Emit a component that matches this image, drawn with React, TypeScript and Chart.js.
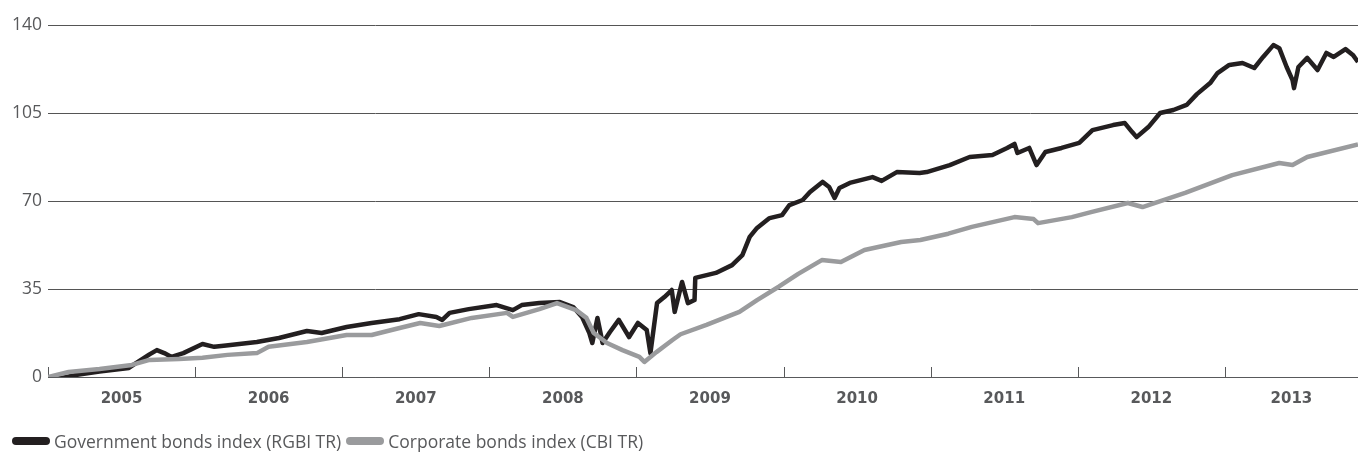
import React, { useEffect, useRef } from "react";
import { Chart, registerables } from "chart.js";

Chart.register(...registerables);

const yTicks = [0, 35, 70, 105, 140];
const yearLabels = [2005, 2006, 2007, 2008, 2009, 2010, 2011, 2012, 2013];
const xStart = 2005.0;
const xEnd = 2013.905;

const seriesNames = ["Government bonds index (RGBI TR)", "Corporate bonds index (CBI TR)"];
const seriesColors = ["#231f20", "#9a9b9d"];

const govDates = [
  2005.0, 2005.04, 2005.21, 2005.35, 2005.55, 2005.59, 2005.69, 2005.74, 2005.79, 2005.84,
  2005.92, 2006.05, 2006.13, 2006.21, 2006.42, 2006.57, 2006.76, 2006.86, 2007.03, 2007.2,
  2007.39, 2007.52, 2007.64, 2007.68, 2007.73, 2007.86, 2008.05, 2008.16, 2008.22, 2008.34,
  2008.48, 2008.57, 2008.63, 2008.68, 2008.7, 2008.735, 2008.77, 2008.82, 2008.88, 2008.95,
  2009.01, 2009.07, 2009.095, 2009.14, 2009.19, 2009.24, 2009.26, 2009.31, 2009.35, 2009.395,
  2009.4, 2009.54, 2009.65, 2009.72, 2009.77, 2009.82, 2009.905, 2009.99, 2010.04, 2010.13,
  2010.18, 2010.265, 2010.31, 2010.347, 2010.38, 2010.45, 2010.605, 2010.667, 2010.77, 2010.925,
  2010.973, 2011.13, 2011.265, 2011.42, 2011.52, 2011.57, 2011.59, 2011.67, 2011.72, 2011.78,
  2011.89, 2012.01, 2012.1, 2012.24, 2012.32, 2012.37, 2012.4, 2012.48, 2012.56, 2012.65,
  2012.74, 2012.81, 2012.9, 2012.95, 2013.03, 2013.12, 2013.2, 2013.26, 2013.33, 2013.37,
  2013.42, 2013.46, 2013.47, 2013.5, 2013.56, 2013.63, 2013.69, 2013.74, 2013.82, 2013.87,
  2013.905,
];
const govValues = [
  0, -1.0, 1.0, 2.2, 3.6, 5.2, 9.0, 10.7, 9.5, 8.0,
  9.5, 13.1, 12.0, 12.5, 13.9, 15.5, 18.3, 17.5, 19.9, 21.5,
  23.0, 25.0, 23.9, 22.7, 25.5, 27.0, 28.6, 26.6, 28.6, 29.4,
  29.8, 27.8, 23.9, 17.5, 13.5, 23.5, 13.5, 17.9, 22.7, 15.9,
  21.5, 18.7, 9.5, 29.4, 31.8, 34.6, 25.9, 37.8, 29.4, 30.6,
  39.4, 41.4, 44.5, 48.5, 55.7, 59.3, 63.2, 64.4, 68.4, 70.4,
  73.6, 77.6, 75.6, 71.2, 75.2, 77.2, 79.5, 78.0, 81.5, 81.1,
  81.5, 84.3, 87.5, 88.3, 91.1, 92.7, 89.1, 91.1, 84.3, 89.5,
  91.1, 93.1, 98.2, 100.2, 101.0, 97.4, 95.4, 99.4, 105.0, 106.2,
  108.2, 112.5, 116.9, 120.9, 124.1, 124.9, 122.9, 127.3, 132.0, 130.8,
  123.3, 118.1, 114.9, 123.3, 126.9, 122.1, 128.9, 127.3, 130.4, 128.1,
  125.3,
];

const corpDates = [
  2005.0, 2005.14, 2005.35, 2005.57, 2005.69, 2005.89, 2006.05, 2006.22, 2006.42, 2006.5,
  2006.76, 2007.03, 2007.2, 2007.39, 2007.53, 2007.66, 2007.88, 2008.12, 2008.16, 2008.34,
  2008.46, 2008.59, 2008.66, 2008.71, 2008.8, 2008.905, 2009.02, 2009.054, 2009.136, 2009.245,
  2009.3, 2009.476, 2009.7, 2009.82, 2009.97, 2010.1, 2010.26, 2010.39, 2010.55, 2010.8,
  2010.93, 2011.12, 2011.28, 2011.57, 2011.7, 2011.73, 2011.96, 2012.09, 2012.34, 2012.44,
  2012.73, 2013.05, 2013.37, 2013.46, 2013.56, 2013.905,
];
const corpValues = [
  0, 2.0, 3.2, 4.8, 6.8, 7.2, 7.7, 8.8, 9.5, 12.0,
  13.9, 16.7, 16.7, 19.5, 21.5, 20.3, 23.5, 25.5, 23.9, 27.0,
  29.4, 26.6, 23.5, 17.5, 13.5, 10.7, 8.0, 6.0, 9.9, 14.7,
  17.0, 20.7, 25.9, 30.6, 36.0, 41.0, 46.5, 45.7, 50.5, 53.7,
  54.5, 57.0, 59.7, 63.6, 62.8, 61.2, 63.6, 65.6, 69.2, 67.6,
  73.2, 80.3, 85.1, 84.3, 87.5, 92.5,
];

const FONT = "'Open Sans', 'Noto Sans', sans-serif";
const XFONT = "'DejaVu Sans', 'Open Sans', sans-serif";
const TEXT = "#58595b";

const yearTickPlugin = {
  id: "yearTicks",
  beforeDatasetsDraw(chart: any) {
    const x = chart.scales.x;
    const ctx = chart.ctx;
    const bottom = chart.chartArea.bottom;
    ctx.save();
    ctx.strokeStyle = "#58595b";
    ctx.lineWidth = 1;
    yearLabels.forEach((yr) => {
      const px = Math.round(x.getPixelForValue(yr)) + 0.5;
      ctx.beginPath();
      ctx.moveTo(px, bottom - 10);
      ctx.lineTo(px, bottom);
      ctx.stroke();
    });
    ctx.restore();
  },
};

export default function App() {
  const canvasRef = useRef<HTMLCanvasElement | null>(null);

  useEffect(() => {
    document.body.style.margin = "0";
    const gov = govDates.map((d, i) => ({ x: d, y: govValues[i] }));
    const corp = corpDates.map((d, i) => ({ x: d, y: corpValues[i] }));
    const chart = new Chart(canvasRef.current as HTMLCanvasElement, {
      type: "line",
      data: {
        datasets: [
          {
            label: seriesNames[0],
            data: gov,
            borderColor: seriesColors[0],
            backgroundColor: seriesColors[0],
            borderWidth: 4.5,
            borderJoinStyle: "round",
            pointRadius: 0,
            tension: 0,
            order: 1,
          },
          {
            label: seriesNames[1],
            data: corp,
            borderColor: seriesColors[1],
            backgroundColor: seriesColors[1],
            borderWidth: 4.5,
            borderJoinStyle: "round",
            pointRadius: 0,
            tension: 0,
            order: 0,
          },
        ],
      },
      options: {
        animation: false,
        responsive: true,
        maintainAspectRatio: false,
        layout: { padding: { top: 25, right: 0, left: 0, bottom: 0 } },
        plugins: { legend: { display: false }, tooltip: { enabled: false } },
        scales: {
          x: {
            type: "linear",
            min: xStart,
            max: xEnd,
            afterBuildTicks: (scale: any) => {
              scale.ticks = yearLabels.map((yr) => ({
                value: (yr + Math.min(yr + 1, xEnd)) / 2,
                label: String(yr),
              }));
            },
            afterFit: (scale: any) => {
              scale.height = 78;
            },
            ticks: {
              autoSkip: false,
              maxRotation: 0,
              padding: 13,
              color: TEXT,
              font: { family: XFONT, size: 15, weight: "bold" },
              callback: (v: any) => String(Math.floor(v)),
            },
            grid: { display: false, drawTicks: false },
            border: { display: true, color: "#58595b", width: 1 },
          },
          y: {
            min: 0,
            max: 140,
            afterBuildTicks: (scale: any) => {
              scale.ticks = yTicks.map((v) => ({ value: v }));
            },
            afterFit: (scale: any) => {
              scale.width = 48;
            },
            ticks: {
              padding: 6,
              color: TEXT,
              font: { family: FONT, size: 17.5 },
            },
            grid: { color: "#555555", lineWidth: 1, drawTicks: false },
            border: { display: false },
          },
        },
      },
      plugins: [yearTickPlugin],
    } as any);
    return () => chart.destroy();
  }, []);

  const legendItem = (i: number) => (
    <div key={i} style={{ display: "flex", alignItems: "center", marginRight: 5 }}>
      <span
        style={{
          display: "inline-block",
          width: 38,
          height: 8,
          borderRadius: 4,
          background: seriesColors[i],
          marginRight: 4,
        }}
      />
      <span>{seriesNames[i]}</span>
    </div>
  );

  return (
    <div style={{ position: "relative", width: 1358, height: 455 }}>
      <canvas ref={canvasRef} />
      <div
        style={{
          position: "absolute",
          left: 12,
          top: 429,
          display: "flex",
          alignItems: "center",
          fontFamily: FONT,
          fontSize: 17.5,
          color: TEXT,
          lineHeight: "24px",
          whiteSpace: "nowrap",
        }}
      >
        {legendItem(0)}
        {legendItem(1)}
      </div>
    </div>
  );
}
